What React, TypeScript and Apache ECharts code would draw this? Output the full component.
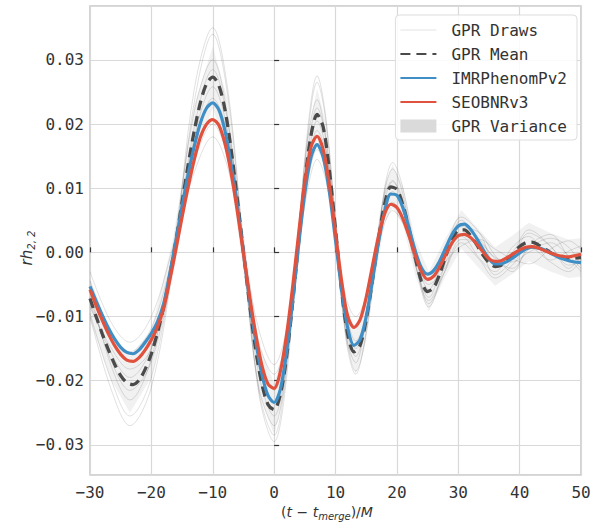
import React, { useEffect, useRef } from "react";
import * as echarts from "echarts";

// ---- time axis (t - t_merge)/M ----
const T_START = -30;
const T_COUNT = 81;
const T = Array.from({ length: T_COUNT }, (_, i) => T_START + i);

// GPR mean (dashed)
const GPR_MEAN = [
  -0.0072, -0.0100, -0.0127, -0.0152, -0.0174, -0.0192, -0.0203, -0.0206, -0.0199, -0.0182,
  -0.0158, -0.0125, -0.0085, -0.0037, 0.0018, 0.0078, 0.0137, 0.0190, 0.0234, 0.0263,
  0.0273, 0.0260, 0.0222, 0.0160, 0.0083, 0.0001, -0.0080, -0.0152, -0.0205, -0.0237,
  -0.0245, -0.0222, -0.0165, -0.0080, 0.0017, 0.0110, 0.0182, 0.0215, 0.0195, 0.0128,
  0.0036, -0.0060, -0.0128, -0.0155, -0.0145, -0.0105, -0.0045, 0.0020, 0.0075, 0.0102,
  0.0098, 0.0073, 0.0035, -0.0008, -0.0045, -0.0061, -0.0055, -0.0033, -0.0005, 0.0020,
  0.0034, 0.0035, 0.0026, 0.0012, -0.0004, -0.0016, -0.0022, -0.0020, -0.0012, -0.0002,
  0.0009, 0.0015, 0.0016, 0.0012, 0.0006, 0.0000, -0.0005, -0.0008, -0.0010, -0.0009,
  -0.0008,
];

// IMRPhenomPv2 (blue)
const IMR = [
  -0.0053, -0.0076, -0.0098, -0.0118, -0.0135, -0.0148, -0.0156, -0.0158, -0.0152, -0.0140,
  -0.0126, -0.0108, -0.0080, -0.0034, 0.0018, 0.0072, 0.0122, 0.0166, 0.0202, 0.0225,
  0.0233, 0.0222, 0.0189, 0.0137, 0.0072, 0.0000, -0.0073, -0.0138, -0.0190, -0.0223,
  -0.0234, -0.0214, -0.0158, -0.0078, 0.0012, 0.0092, 0.0148, 0.0168, 0.0148, 0.0094,
  0.0019, -0.0058, -0.0118, -0.0145, -0.0136, -0.0100, -0.0045, 0.0015, 0.0064, 0.0091,
  0.0089, 0.0069, 0.0037, 0.0002, -0.0024, -0.0034, -0.0028, -0.0013, 0.0008, 0.0028,
  0.0041, 0.0044, 0.0036, 0.0022, 0.0005, -0.0010, -0.0018, -0.0018, -0.0014, -0.0008,
  -0.0001, 0.0005, 0.0008, 0.0007, 0.0004, -0.0001, -0.0006, -0.0010, -0.0013, -0.0015,
  -0.0016,
];

// SEOBNRv3 (red)
const SEOB = [
  -0.0058, -0.0083, -0.0106, -0.0127, -0.0145, -0.0159, -0.0168, -0.0170, -0.0164, -0.0152,
  -0.0136, -0.0116, -0.0087, -0.0043, 0.0005, 0.0055, 0.0102, 0.0145, 0.0180, 0.0200,
  0.0207, 0.0198, 0.0169, 0.0123, 0.0064, -0.0002, -0.0068, -0.0127, -0.0176, -0.0205,
  -0.0212, -0.0186, -0.0130, -0.0055, 0.0030, 0.0110, 0.0164, 0.0181, 0.0160, 0.0105,
  0.0030, -0.0045, -0.0100, -0.0117, -0.0105, -0.0070, -0.0022, 0.0025, 0.0060, 0.0075,
  0.0070, 0.0052, 0.0025, -0.0005, -0.0030, -0.0042, -0.0037, -0.0022, -0.0003, 0.0015,
  0.0026, 0.0028, 0.0023, 0.0013, 0.0001, -0.0010, -0.0014, -0.0013, -0.0008, -0.0002,
  0.0004, 0.0008, 0.0009, 0.0007, 0.0003, -0.0001, -0.0004, -0.0006, -0.0007, -0.0005,
  -0.0003,
];

// GPR draws and variance band, sampled at these times
const DRAW_T = [
  -30, -26.5, -23.5, -20, -16.5, -13, -10, -7.5, -5, -2.5, 0, 1.8, 3.8, 5.5, 7, 8.5, 10.1, 11.7,
  13.3, 14.8, 16.5, 18, 19.3, 21, 23, 25.2, 27.8, 30.5, 33.5, 36, 38.8, 41.5, 45, 48, 50,
];

const DRAW_A = [
  -0.0095, -0.0200, -0.0255, -0.0195, -0.0015, 0.0235, 0.0340, 0.0240, 0.0005, -0.0220, -0.0295,
  -0.0215, 0.0005, 0.0185, 0.0265, 0.0200, 0.0030, -0.0135, -0.0190, -0.0135, -0.0010, 0.0095,
  0.0130, 0.0090, -0.0015, -0.0085, -0.0020, 0.0050, 0.0012, -0.0035, -0.0012, 0.0030, 0.0010,
  -0.0020, -0.0015,
];
const DRAW_B = [
  -0.0045, -0.0125, -0.0155, -0.0118, -0.0005, 0.0140, 0.0200, 0.0145, -0.0002, -0.0140, -0.0190,
  -0.0140, 0.0002, 0.0112, 0.0160, 0.0125, 0.0015, -0.0085, -0.0118, -0.0085, -0.0005, 0.0058,
  0.0078, 0.0052, -0.0012, -0.0040, 0.0005, 0.0025, -0.0010, -0.0030, 0.0008, 0.0025, -0.0012,
  0.0002, 0.0010,
];
const DRAW_C = [
  -0.0060, -0.0178, -0.0230, -0.0165, 0.0005, 0.0220, 0.0300, 0.0205, -0.0012, -0.0210, -0.0270,
  -0.0190, 0.0018, 0.0178, 0.0238, 0.0170, 0.0010, -0.0128, -0.0172, -0.0115, 0.0002, 0.0090,
  0.0112, 0.0070, -0.0020, -0.0070, -0.0002, 0.0045, 0.0020, -0.0010, -0.0025, 0.0005, 0.0022,
  0.0008, -0.0020,
];
const DRAW_D = [
  -0.0085, -0.0150, -0.0182, -0.0150, -0.0028, 0.0160, 0.0240, 0.0182, 0.0015, -0.0150, -0.0215,
  -0.0168, -0.0015, 0.0125, 0.0190, 0.0155, 0.0040, -0.0090, -0.0138, -0.0108, -0.0025, 0.0060,
  0.0090, 0.0075, 0.0008, -0.0050, -0.0025, 0.0020, 0.0015, -0.0008, -0.0015, 0.0000, 0.0015,
  -0.0005, -0.0025,
];
const DRAW_E = [
  -0.0100, -0.0215, -0.0270, -0.0210, -0.0020, 0.0255, 0.0350, 0.0250, 0.0010, -0.0215, -0.0285,
  -0.0200, 0.0010, 0.0195, 0.0275, 0.0205, 0.0035, -0.0125, -0.0185, -0.0140, -0.0020, 0.0100,
  0.0140, 0.0100, 0.0000, -0.0080, -0.0030, 0.0040, 0.0030, -0.0005, -0.0030, 0.0010, 0.0028,
  -0.0008, -0.0030,
];
const DRAW_F = [
  -0.0030, -0.0110, -0.0140, -0.0100, 0.0008, 0.0125, 0.0180, 0.0130, 0.0005, -0.0120, -0.0175,
  -0.0130, -0.0005, 0.0100, 0.0145, 0.0110, 0.0020, -0.0070, -0.0100, -0.0075, -0.0010, 0.0045,
  0.0065, 0.0045, -0.0005, -0.0035, -0.0015, 0.0010, 0.0020, 0.0005, -0.0010, -0.0018, 0.0005,
  0.0018, 0.0005,
];
const DRAW_G = [
  -0.0070, -0.0170, -0.0215, -0.0170, -0.0020, 0.0195, 0.0285, 0.0200, -0.0005, -0.0190, -0.0255,
  -0.0185, 0.0005, 0.0158, 0.0225, 0.0175, 0.0028, -0.0115, -0.0162, -0.0118, -0.0015, 0.0080,
  0.0110, 0.0082, 0.0000, -0.0058, 0.0002, 0.0055, 0.0030, -0.0015, 0.0000, 0.0035, 0.0010,
  -0.0025, -0.0005,
];
const DRAW_H = [
  -0.0080, -0.0158, -0.0195, -0.0148, 0.0000, 0.0180, 0.0258, 0.0185, 0.0005, -0.0170, -0.0235,
  -0.0175, -0.0005, 0.0142, 0.0205, 0.0158, 0.0022, -0.0105, -0.0150, -0.0108, -0.0008, 0.0070,
  0.0095, 0.0065, -0.0018, -0.0075, -0.0030, 0.0015, -0.0012, -0.0040, -0.0020, 0.0008, -0.0015,
  -0.0030, -0.0012,
];
const DRAWS = [DRAW_A, DRAW_B, DRAW_C, DRAW_D, DRAW_E, DRAW_F, DRAW_G, DRAW_H];

const BAND_LO = [
  -0.0105, -0.0200, -0.0250, -0.0195, -0.0040, 0.0150, 0.0225, 0.0150, -0.0030, -0.0218, -0.0285,
  -0.0215, -0.0030, 0.0115, 0.0175, 0.0130, -0.0005, -0.0140, -0.0190, -0.0142, -0.0040, 0.0045,
  0.0070, 0.0043, -0.0036, -0.0092, -0.0040, 0.0006, -0.0026, -0.0052, -0.0034, -0.0014, -0.0030,
  -0.0040, -0.0038,
];
const BAND_HI = [
  -0.0040, -0.0128, -0.0162, -0.0121, 0.0020, 0.0230, 0.0321, 0.0236, 0.0032, -0.0142, -0.0205,
  -0.0145, 0.0030, 0.0185, 0.0255, 0.0200, 0.0055, -0.0080, -0.0122, -0.0082, 0.0016, 0.0105,
  0.0136, 0.0103, 0.0020, -0.0030, 0.0020, 0.0066, 0.0034, 0.0008, 0.0026, 0.0046, 0.0030,
  0.0020, 0.0022,
];

const X_MIN = -30;
const X_MAX = 50;
const Y_MIN = -0.0347;
const Y_MAX = 0.0384;

const MONO = "'DejaVu Sans Mono', monospace";
const SANS = "'DejaVu Sans', sans-serif";
const minus = (s: string) => s.replace("-", "\u2212");

export default function App() {
  const ref = useRef<HTMLDivElement>(null);

  useEffect(() => {
    if (!ref.current) return;
    const chart = echarts.init(ref.current, undefined, { renderer: "svg" });

    const drawSeries = DRAWS.map((d) => ({
      type: "line",
      name: "GPR Draws",
      data: DRAW_T.map((t, i) => [t, d[i]]),
      symbol: "none",
      smooth: 0.35,
      silent: true,
      z: 2,
      itemStyle: { color: "#cccccc" },
      lineStyle: { color: "#111111", width: 0.8, opacity: 0.16 },
    }));

    const option: any = {
      animation: false,
      backgroundColor: "#ffffff",
      grid: {
        left: 90,
        right: 14,
        top: 6,
        bottom: 53,
        show: true,
        borderColor: "#c6c6c6",
        borderWidth: 1.5,
        backgroundColor: "#ffffff",
      },
      xAxis: {
        type: "value",
        min: X_MIN,
        max: X_MAX,
        interval: 10,
        axisLine: { show: false },
        axisTick: { show: true, inside: true, length: 5, lineStyle: { color: "#333", width: 1.2 } },
        splitLine: { show: true, lineStyle: { color: "#d9d9d9", width: 1.2 } },
        axisLabel: {
          margin: 9,
          fontFamily: MONO,
          fontSize: 16,
          color: "#333",
          formatter: (v: number) => minus(String(Math.round(v))),
        },
      },
      yAxis: {
        type: "value",
        min: Y_MIN,
        max: Y_MAX,
        splitNumber: 7,
        axisLine: { show: false },
        axisTick: { show: true, inside: true, length: 5, lineStyle: { color: "#333", width: 1.2 } },
        splitLine: { show: true, lineStyle: { color: "#d9d9d9", width: 1.2 } },
        axisLabel: {
          margin: 6,
          fontFamily: MONO,
          fontSize: 16,
          color: "#333",
          showMinLabel: false,
          showMaxLabel: false,
          formatter: (v: number) => {
            const s = Math.abs(v).toFixed(2);
            return v < -1e-9 ? "\u2212" + s : s;
          },
        },
      },
      legend: {
        orient: "vertical",
        right: 18,
        top: 15,
        itemWidth: 36,
        itemHeight: 13,
        itemGap: 8,
        backgroundColor: "rgba(255,255,255,0.85)",
        borderColor: "#dddddd",
        borderWidth: 1,
        borderRadius: 4,
        padding: [7, 10, 6, 4],
        itemStyle: { opacity: 0 },
        textStyle: { fontFamily: MONO, fontSize: 16, color: "#333", padding: [0, 0, 0, 10] },
        data: [
          { name: "GPR Draws", lineStyle: { opacity: 0.06 } },
          { name: "GPR Mean" },
          { name: "IMRPhenomPv2" },
          { name: "SEOBNRv3" },
          { name: "GPR Variance", icon: "rect", itemStyle: { opacity: 1 } },
        ],
      },
      graphic: [
        {
          type: "text",
          x: 27,
          y: 248,
          rotation: Math.PI / 2,
          style: {
            text: "{i|rh}{s|2, 2}",
            align: "center",
            verticalAlign: "middle",
            fill: "#333",
            rich: {
              i: { fontFamily: SANS, fontStyle: "italic", fontSize: 15, fill: "#333" },
              s: { fontFamily: SANS, fontStyle: "italic", fontSize: 10, fill: "#333", padding: [9, 0, 0, 0] },
            },
          },
        },
        {
          type: "text",
          x: 327,
          y: 512,
          style: {
            text: "{n|(}{i|t}{n| \u2212 }{i|t}{s|merge}{n|)/}{i|M}",
            align: "center",
            verticalAlign: "middle",
            fill: "#333",
            rich: {
              n: { fontFamily: SANS, fontSize: 14, fill: "#333" },
              i: { fontFamily: SANS, fontStyle: "italic", fontSize: 14, fill: "#333" },
              s: { fontFamily: SANS, fontStyle: "italic", fontSize: 10, fill: "#333", padding: [8, 0, 0, 0] },
            },
          },
        },
      ],
      series: [
        {
          type: "custom",
          name: "GPR Variance",
          clip: true,
          silent: true,
          z: 1,
          itemStyle: { color: "#dadada" },
          encode: { x: 0, y: [1, 2] },
          data: DRAW_T.map((t, i) => [t, BAND_LO[i], BAND_HI[i]]),
          renderItem: (params: any, api: any) => {
            if (params.dataIndex !== 0) return { type: "group", children: [] };
            const upper = DRAW_T.map((t, i) => api.coord([t, BAND_HI[i]]));
            const lower = DRAW_T.map((t, i) => api.coord([t, BAND_LO[i]])).reverse();
            return {
              type: "polygon",
              shape: { points: upper.concat(lower) },
              style: { fill: "rgba(120,120,120,0.10)" },
            };
          },
        },
        ...drawSeries,
        {
          type: "line",
          name: "GPR Mean",
          data: T.map((t, i) => [t, GPR_MEAN[i]]),
          symbol: "none",
          smooth: 0.3,
          z: 3,
          itemStyle: { color: "#4a4a4a" },
          lineStyle: { color: "#4a4a4a", width: 3.3, type: [10, 6] },
        },
        {
          type: "line",
          name: "IMRPhenomPv2",
          data: T.map((t, i) => [t, IMR[i]]),
          symbol: "none",
          smooth: 0.3,
          z: 4,
          itemStyle: { color: "#3f8fc6" },
          lineStyle: { color: "#3f8fc6", width: 3.2 },
        },
        {
          type: "line",
          name: "SEOBNRv3",
          data: T.map((t, i) => [t, SEOB[i]]),
          symbol: "none",
          smooth: 0.3,
          z: 5,
          itemStyle: { color: "#e0523e" },
          lineStyle: { color: "#e0523e", width: 3.2 },
        },
      ],
    };

    chart.setOption(option);
    return () => chart.dispose();
  }, []);

  return (
    <div
      ref={ref}
      style={{ position: "fixed", left: 0, top: 0, width: 595, height: 528, background: "#fff" }}
    />
  );
}
